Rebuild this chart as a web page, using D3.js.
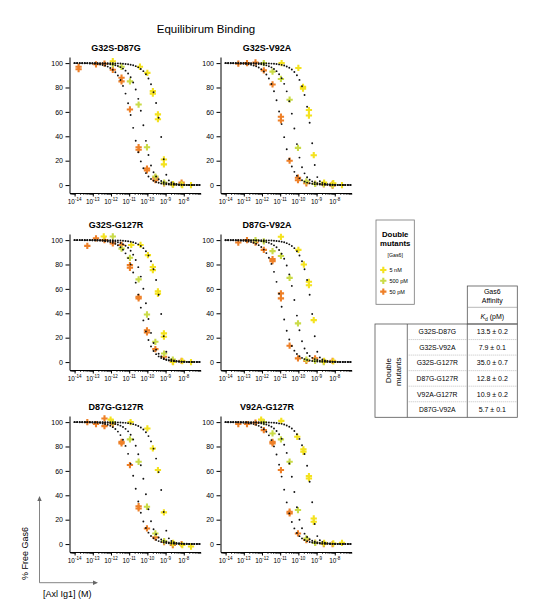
<!DOCTYPE html>
<html><head><meta charset="utf-8">
<script src="https://cdn.jsdelivr.net/npm/d3@7"></script>
<style>
body{margin:0;background:#fff}
text{font-family:"Liberation Sans",Arial,Helvetica,sans-serif;fill:#000}
</style>
</head><body>
<svg id="c" width="541" height="607"></svg>
<script>
// ---------------- data ----------------
const chartTitle = "Equilibirum Binding";
const panelNames = ["G32S-D87G","G32S-V92A","G32S-G127R","D87G-V92A","D87G-G127R","V92A-G127R"];
const seriesLabels = ["5 nM","500 pM","50 pM"];
const seriesColors = ["#F4E21F","#CADB48","#EE8028"];
const yTicks = [0,20,40,60,80,100];
const xTickExp = [-14,-13,-12,-11,-10,-9,-8];

// fitted curve midpoints (log10 M) per panel: [5 nM, 500 pM, 50 pM]
const fitMidLog = [
  [-9.33,-10.23,-10.82],
  [-9.37,-10.26,-10.92],
  [-9.33,-10.10,-10.43],
  [-9.33,-10.21,-10.98],
  [-9.29,-10.18,-10.70],
  [-9.37,-10.30,-10.85]
];
// curve shape (Kd / [Gas6] ratio of the depletion fit) per series
const fitShape = [0.03,0.2,0.5];

// measured points [Axl Ig1 (M), % free Gas6], per panel
const pts5nM = [
  [[1.26e-12,101.5],[3.9e-11,97],[1e-10,92],[2e-10,77],[2e-10,75],[3.8e-10,58],[3.8e-10,54],[8.1e-10,21],[8.1e-10,17],[2.6e-9,0.5],[8.3e-9,0],[2.5e-8,0]],
  [[1.2e-11,100],[1e-10,96],[1.8e-10,80.5],[1.8e-10,79],[3.8e-10,61.5],[3.8e-10,57],[7e-10,24.5],[2.6e-9,2],[8.3e-9,1.5],[2.5e-8,0]],
  [[4e-13,103],[1.3e-11,96],[4.2e-11,96],[1.07e-10,87.7],[2e-10,78],[2e-10,75.4],[3.8e-10,58],[3.8e-10,56],[8.1e-10,23.5],[8.1e-10,20.8],[2.6e-9,0],[8.3e-9,0.8],[2.5e-8,0]],
  [[1.1e-11,102.7],[1e-10,92],[2e-10,80],[3.8e-10,65.8],[3.8e-10,63],[7e-10,34.4],[2.6e-9,1],[8.3e-9,0.5]],
  [[9.5e-13,102],[1.2e-11,100],[1e-10,94.8],[2e-10,78.4],[3.8e-10,60.7],[8.1e-10,26],[2.6e-9,1],[8.3e-9,-0.8],[2.5e-8,-2]],
  [[9e-13,102],[1.15e-11,101],[8.7e-11,88],[1.9e-10,77.6],[1.9e-10,75.7],[3.8e-10,55.7],[3.8e-10,53.8],[7e-10,21],[7e-10,18.3],[2.6e-9,1],[8.3e-9,0.5],[2.5e-8,1]]
];
const pts500pM = [
  [[1.26e-12,99],[3.8e-12,97],[1.1e-11,85],[3.3e-11,66],[9.5e-11,31],[2.75e-10,7],[8.3e-10,2],[2.5e-9,0.5],[7.6e-9,0.5]],
  [[1.26e-12,100],[3.8e-12,93],[1.1e-11,87],[3.3e-11,70],[9.5e-11,30.5],[2.75e-10,3],[8.3e-10,1],[2.5e-9,1],[7.6e-9,0]],
  [[1.26e-12,103],[3.8e-12,93],[1.1e-11,85.5],[3.3e-11,67.8],[9.5e-11,39],[2.75e-10,16.6],[8.3e-10,7],[2.5e-9,2]],
  [[4.4e-13,100],[1.26e-12,99],[3.8e-12,91],[1.1e-11,87],[3.3e-11,69],[9.5e-11,31.7],[2.75e-10,2],[8.3e-10,1],[2.5e-9,0]],
  [[1.26e-12,100],[1.1e-11,85.8],[3.3e-11,67.5],[9.5e-11,30.6],[2.75e-10,8.7],[8.3e-10,2.5],[2.5e-9,0.5]],
  [[1.26e-12,100],[3.8e-12,90.7],[1.1e-11,85.8],[3.3e-11,67.5],[9.5e-11,27.9],[2.75e-10,4.6],[8.3e-10,1],[2.5e-9,0.5]]
];
const pts50pM = [
  [[1.66e-14,97],[1.66e-14,95],[1.5e-13,99],[4.4e-13,99.5],[1.26e-12,94.5],[3.8e-12,88],[3.8e-12,85],[1.1e-11,62],[3.3e-11,31],[3.3e-11,29],[9.5e-11,13.5],[9.5e-11,12],[2.75e-10,6],[2.75e-10,4],[8.3e-10,1.5],[2.5e-9,0.5],[7.6e-9,2]],
  [[5e-14,99.5],[1.5e-13,100],[4.4e-13,100.5],[1.26e-12,94],[3.8e-12,82.5],[1.1e-11,56],[1.1e-11,53],[3.3e-11,20],[9.5e-11,6],[9.5e-11,4],[2.75e-10,1.5],[8.3e-10,1],[2.5e-9,0.5],[7.6e-9,1],[7.6e-9,-0.5]],
  [[5e-14,95.3],[1.5e-13,101.4],[4.4e-13,100],[1.26e-12,97.3],[3.8e-12,96],[1.1e-11,79.5],[1.1e-11,77.3],[3.3e-11,53.5],[3.3e-11,52.2],[9.5e-11,26],[9.5e-11,24.3],[2.75e-10,10.6],[8.3e-10,4.4],[2.5e-9,0.3],[7.6e-9,1]],
  [[5e-14,98],[1.5e-13,100],[4.4e-13,98],[1.26e-12,92],[3.8e-12,84.4],[3.8e-12,82.8],[1.1e-11,56.3],[1.1e-11,52.2],[3.3e-11,13.4],[9.5e-11,3],[2.75e-10,1],[8.3e-10,3],[2.5e-9,0.3],[7.6e-9,1]],
  [[5e-14,100],[1.5e-13,98.4],[4.4e-13,103],[4.4e-13,96.7],[1.26e-12,98.4],[3.8e-12,83.8],[3.8e-12,82.5],[1.1e-11,64.8],[3.3e-11,31],[3.3e-11,29.2],[9.5e-11,12.8],[2.75e-10,5.5],[8.3e-10,1.7],[2.5e-9,-0.8],[7.6e-9,0]],
  [[5e-14,98.4],[1.5e-13,98.4],[4.4e-13,99.5],[1.26e-12,93.4],[3.8e-12,83.8],[3.8e-12,82.5],[1.1e-11,60.7],[3.3e-11,26.5],[3.3e-11,25.2],[9.5e-11,8.7],[2.75e-10,3.3],[8.3e-10,1],[2.5e-9,0],[7.6e-9,0]]
];

const tableMutants = ["G32S-D87G","G32S-V92A","G32S-G127R","D87G-G127R","V92A-G127R","D87G-V92A"];
const tableKd = [13.5,7.9,35.0,12.8,10.9,5.7];
const tableErr = [0.2,0.1,0.7,0.2,0.2,0.1];

// ---------------- drawing ----------------
const svg = d3.select("#c");
const FONT = '"Liberation Sans",Arial,Helvetica,sans-serif';
const colX = [69.5,220.5];
const rowTop = [57,234,416];
const plotW = 131, plotH = 136;
const allPts = [pts5nM, pts500pM, pts50pM];
const fitGrid = d3.range(-14, -7.1, 0.14).map(e => Math.pow(10, e));
const markerSize = 22;

function freePct(R, mid, k){
  const L = mid/(0.5+k), r = R/L, s = 1+r+k;
  const b = (s - Math.sqrt(Math.max(0, s*s-4*r)))/2;
  return 100*(1-b);
}

svg.append("text").attr("x",206).attr("y",33).attr("text-anchor","middle")
  .style("font-size","11.5px").text(chartTitle);

panelNames.forEach((name, p) => {
  const c = p % 2, r = Math.floor(p/2);
  const x0 = colX[c], y0 = rowTop[r];
  const x = d3.scaleLog().domain([Math.pow(10,-14.28), Math.pow(10,-7.08)]).range([x0, x0+plotW]);
  const y = d3.scaleLinear().domain([-6.5,105]).range([y0+plotH, y0]);
  const g = svg.append("g");

  g.append("text").attr("x", x0+46.5).attr("y", y0-5.7).attr("text-anchor","middle")
    .style("font-size","9px").style("font-weight","bold").text(name);

  // y axis
  const ya = g.append("g").attr("transform",`translate(${x0},0)`)
    .call(d3.axisLeft(y).tickValues(yTicks).tickSize(4).tickSizeOuter(0).tickPadding(2.5));
  ya.selectAll("text").style("font-size","7px").style("font-family",FONT);
  ya.select(".domain").attr("stroke-width",1);

  // x axis: minor + major ticks
  const xa = g.append("g").attr("transform",`translate(0,${y0+plotH})`)
    .call(d3.axisBottom(x).tickValues(x.ticks()).tickSize(2).tickSizeOuter(0).tickFormat(""));
  xa.selectAll(".tick line").attr("stroke-width",0.7);
  const majors = xTickExp.map(e => Math.pow(10,e));
  const xm = g.append("g").attr("transform",`translate(0,${y0+plotH})`)
    .call(d3.axisBottom(x).tickValues(majors).tickSize(3.5).tickSizeOuter(0).tickFormat(""));
  xm.select(".domain").remove();
  xTickExp.forEach(e => {
    const t = g.append("text").attr("x", x(Math.pow(10,e))).attr("y", y0+plotH+10.5)
      .attr("text-anchor","middle").style("font-size","6.4px");
    t.append("tspan").text("10");
    t.append("tspan").attr("dy",-2.6).style("font-size","4.5px").text(String(e));
  });

  // measured points
  [2,1,0].forEach(si => {
    g.selectAll(null).data(allPts[si][p]).enter().append("path")
      .attr("d", d3.symbol().type(d3.symbolCross).size(markerSize))
      .attr("transform", d => `translate(${x(d[0])},${y(d[1])})`)
      .attr("fill", seriesColors[si]);
  });

  // fitted curves as dots
  [0,1,2].forEach(si => {
    const mid = Math.pow(10, fitMidLog[p][si]);
    g.selectAll(null).data(fitGrid).enter().append("circle")
      .attr("cx", d => x(d)).attr("cy", d => y(freePct(d, mid, fitShape[si])))
      .attr("r", 0.95).attr("fill","#111");
  });
});

// bottom-left axis key
const key = svg.append("g").attr("stroke","#666").attr("stroke-width",0.8).attr("fill","none");
key.append("path").attr("d","M39.5,500 V582.7 H94");
svg.append("path").attr("d","M39.5,496 l-2.2,5 h4.4 z").attr("fill","#666");
svg.append("path").attr("d","M98,582.7 l-5,-2.2 v4.4 z").attr("fill","#666");
svg.append("text").attr("transform","translate(28,580) rotate(-90)").attr("text-anchor","start")
  .style("font-size","9px").text("% Free Gas6");
svg.append("text").attr("x",43).attr("y",597).style("font-size","9px").text("[Axl Ig1] (M)");

// legend
const lg = svg.append("g");
lg.append("rect").attr("x",376).attr("y",220).attr("width",38.3).attr("height",84.3)
  .attr("fill","none").attr("stroke","#777").attr("stroke-width",0.8);
lg.append("text").attr("x",395.2).attr("y",236.5).attr("text-anchor","middle")
  .style("font-size","7.8px").style("font-weight","bold").text("Double");
lg.append("text").attr("x",395.2).attr("y",246.3).attr("text-anchor","middle")
  .style("font-size","7.8px").style("font-weight","bold").text("mutants");
lg.append("text").attr("x",395.2).attr("y",257).attr("text-anchor","middle")
  .style("font-size","5.2px").text("[Gas6]");
seriesLabels.forEach((s,i) => {
  const yy = 270 + i*10.8;
  lg.append("path").attr("d", d3.symbol().type(d3.symbolCross).size(markerSize))
    .attr("transform",`translate(383.3,${yy})`).attr("fill",seriesColors[i]);
  lg.append("text").attr("x",389.5).attr("y",yy+2).style("font-size","5.5px").text(s);
});

// table
const tb = svg.append("g");
const tL = 375, tC1 = 407.3, tC2 = 467.3, tR = 517.3;
const hTop = 286, hMid = 307.3, bTop = 324, bBot = 417.3;
const rowH = (bBot - bTop)/tableMutants.length;
const dark = "#555";
tb.append("rect").attr("x",tC2).attr("y",hTop).attr("width",tR-tC2).attr("height",bTop-hTop)
  .attr("fill","none").attr("stroke",dark).attr("stroke-width",0.8);
tb.append("line").attr("x1",tC2).attr("x2",tR).attr("y1",hMid).attr("y2",hMid)
  .attr("stroke","#888").attr("stroke-width",0.6);
tb.append("rect").attr("x",tL).attr("y",bTop).attr("width",tR-tL).attr("height",bBot-bTop)
  .attr("fill","none").attr("stroke",dark).attr("stroke-width",0.8);
[tC1,tC2].forEach(xx => tb.append("line").attr("x1",xx).attr("x2",xx).attr("y1",bTop).attr("y2",bBot)
  .attr("stroke",dark).attr("stroke-width",0.8));
tableMutants.forEach((m,i) => {
  if (i > 0) tb.append("line").attr("x1",tC1).attr("x2",tR)
    .attr("y1",bTop+i*rowH).attr("y2",bTop+i*rowH)
    .attr("stroke","#999").attr("stroke-width",0.6).attr("stroke-dasharray","1,1");
  const cy = bTop + (i+0.5)*rowH + 2.6;
  tb.append("text").attr("x",(tC1+tC2)/2).attr("y",cy).attr("text-anchor","middle")
    .style("font-size","6.8px").text(m);
  tb.append("text").attr("x",(tC2+tR)/2).attr("y",cy).attr("text-anchor","middle")
    .style("font-size","7px").text(tableKd[i].toFixed(1) + " \u00b1 " + tableErr[i].toFixed(1));
});
tb.append("text").attr("x",(tC2+tR)/2).attr("y",294.3).attr("text-anchor","middle")
  .style("font-size","7px").text("Gas6");
tb.append("text").attr("x",(tC2+tR)/2).attr("y",303.3).attr("text-anchor","middle")
  .style("font-size","7px").text("Affinity");
const kt = tb.append("text").attr("x",(tC2+tR)/2).attr("y",319).attr("text-anchor","middle")
  .style("font-size","7px");
kt.append("tspan").style("font-style","italic").text("K");
kt.append("tspan").attr("dy",1.5).style("font-size","5px").text("d");
kt.append("tspan").attr("dy",-1.5).text("  (pM)");
const midY = (bTop+bBot)/2;
tb.append("text").attr("transform",`translate(391.2,${midY}) rotate(-90)`).attr("text-anchor","middle")
  .style("font-size","8px").text("Double");
tb.append("text").attr("transform",`translate(400.6,${midY+1}) rotate(-90)`).attr("text-anchor","middle")
  .style("font-size","8px").text("mutants");
</script>
</body></html>
